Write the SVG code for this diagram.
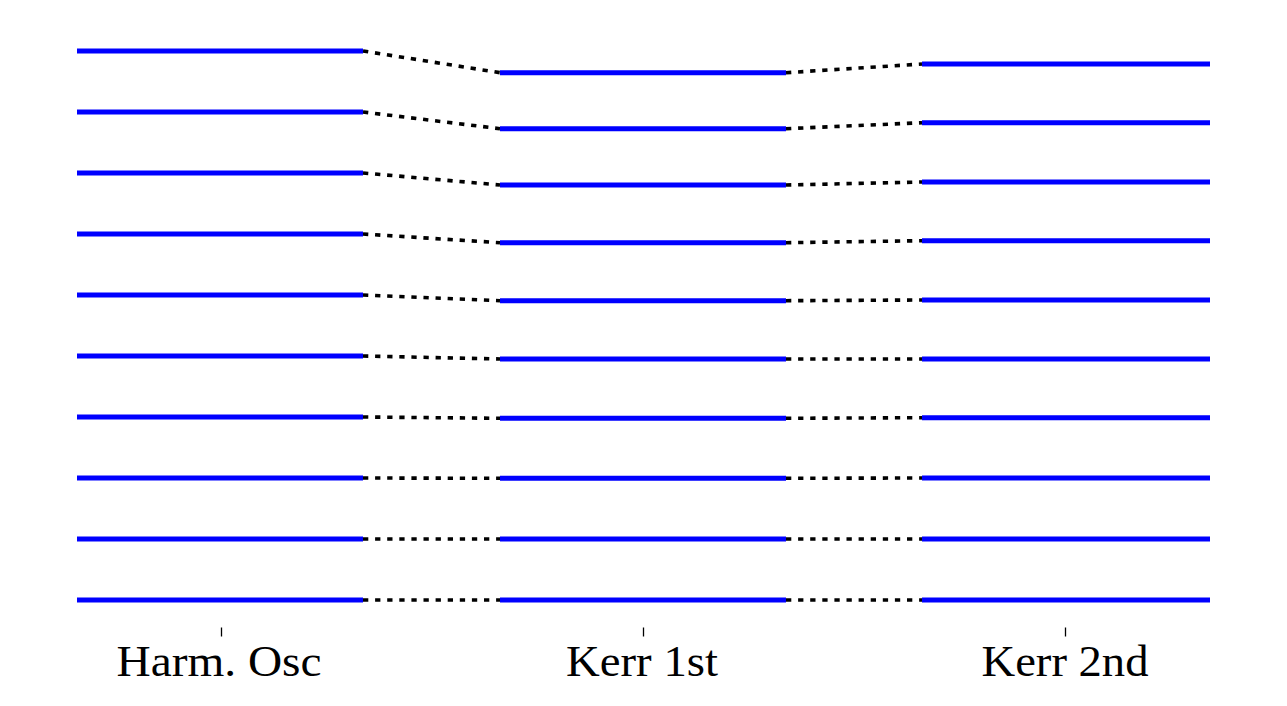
<svg xmlns="http://www.w3.org/2000/svg" width="1287" height="706" viewBox="0 0 1287 706">
<style>
.lvl{stroke:#0000ff;stroke-width:5;fill:none}
.con{stroke:#000;stroke-width:3.6;stroke-dasharray:5.3 6.8;fill:none}
.tick{stroke:#000;stroke-width:1.3}
.lab{font-family:"Liberation Serif","DejaVu Serif",serif;font-size:45px;fill:#000;text-anchor:middle}
</style>
<rect width="1287" height="706" fill="#fff"/>
<g id="connectors">
<path class="con" d="M363,51 L500,72.7 M363,112 L500,128.7 M363,173 L500,185 M363,234 L500,242.7 M363,295 L500,300.7 M363,356 L500,359 M363,417 L500,418.3 M363,478 L500,478.3 M363,539 L500,539 M363,600 L500,600"/>
<path class="con" d="M786,72.7 L922,64 M786,128.7 L922,122.7 M786,185 L922,182 M786,242.7 L922,240.7 M786,300.7 L922,300 M786,359 L922,359 M786,418.3 L922,417.7 M786,478.3 L922,478 M786,539 L922,539 M786,600 L922,600"/>
</g>
<g id="harm-osc">
<path class="lvl" d="M77,51 H363 M77,112 H363 M77,173 H363 M77,234 H363 M77,295 H363 M77,356 H363 M77,417 H363 M77,478 H363 M77,539 H363 M77,600 H363"/>
<line class="tick" x1="221.5" y1="627.5" x2="221.5" y2="636.5"/>
<text class="lab" x="219" y="676" textLength="205" lengthAdjust="spacingAndGlyphs">Harm. Osc</text>
</g>
<g id="kerr-1st">
<path class="lvl" d="M500,72.7 H786 M500,128.7 H786 M500,185 H786 M500,242.7 H786 M500,300.7 H786 M500,359 H786 M500,418.3 H786 M500,478.3 H786 M500,539 H786 M500,600 H786"/>
<line class="tick" x1="643.5" y1="627.5" x2="643.5" y2="636.5"/>
<text class="lab" x="642" y="676" textLength="152" lengthAdjust="spacingAndGlyphs">Kerr 1st</text>
</g>
<g id="kerr-2nd">
<path class="lvl" d="M922,64 H1210 M922,122.7 H1210 M922,182 H1210 M922,240.7 H1210 M922,300 H1210 M922,359 H1210 M922,417.7 H1210 M922,478 H1210 M922,539 H1210 M922,600 H1210"/>
<line class="tick" x1="1065.5" y1="627.5" x2="1065.5" y2="636.5"/>
<text class="lab" x="1065" y="676" textLength="167" lengthAdjust="spacingAndGlyphs">Kerr 2nd</text>
</g>
</svg>
